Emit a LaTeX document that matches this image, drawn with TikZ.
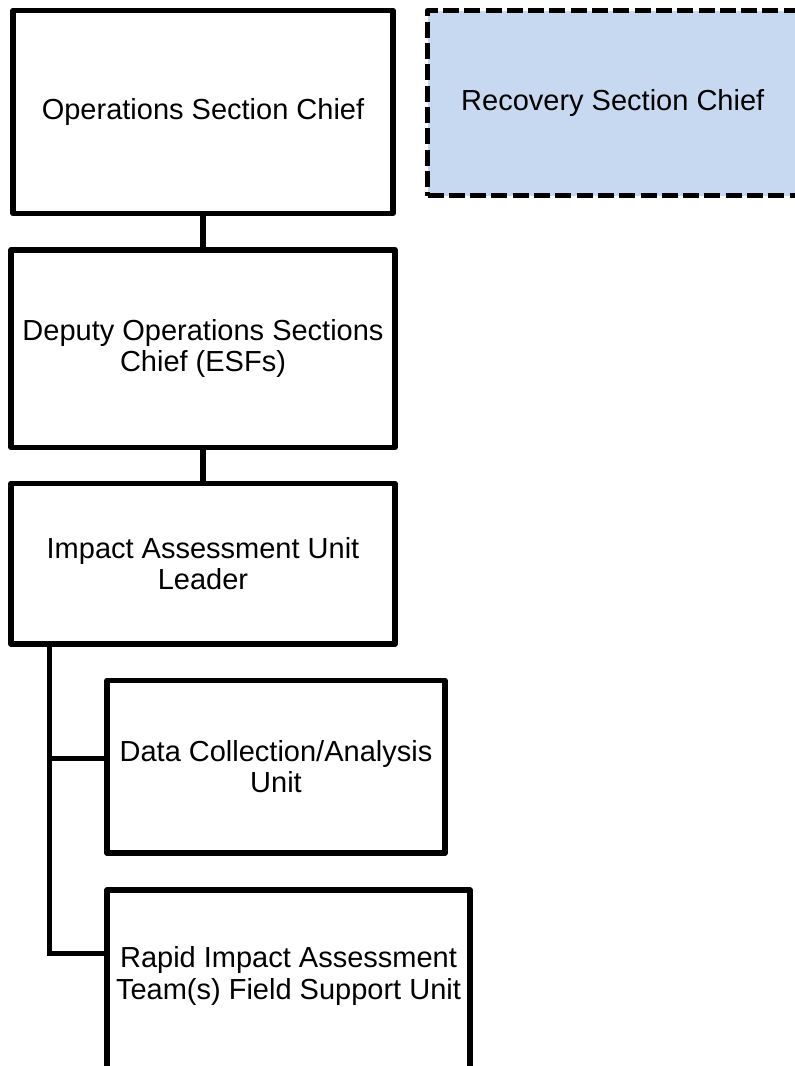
\documentclass[tikz,border=0pt]{standalone}
\usepackage{fontspec}
\setmainfont{Liberation Sans}
\definecolor{recfill}{RGB}{198,217,240}
\tikzset{
  box/.style={draw=black, line width=5.5pt, rectangle, line join=round, align=center,
    inner sep=0pt, font=\fontsize{29}{31.5}\selectfont},
  lbl/.style={align=center, inner sep=0pt, font=\fontsize{29}{31.5}\selectfont},
  conn/.style={draw=black, line width=5.5pt},
  dashedbox/.style={box, line width=5pt, fill=recfill, dash pattern=on 16pt off 5.3pt}
}
\begin{document}
\begin{tikzpicture}[x=1pt, y=-1pt]
\useasboundingbox (0,0) rectangle (795,1066);
\clip (0,0) rectangle (795,1066);
% boxes
\node[box, minimum width=380pt, minimum height=203pt] (ops) at (203,112) {Operations Section Chief};
\node[dashedbox, minimum width=370.5pt, minimum height=185pt] (rec) at (612.75,103) {Recovery Section Chief};
\node[box, minimum width=384pt, minimum height=197.5pt] (dep) at (203,348.5) {Deputy Operations Sections\\Chief (ESFs)};
\node[box, minimum width=384pt, minimum height=160.5pt] (imp) at (203,563.75) {Impact Assessment Unit\\Leader};
\node[box, minimum width=338pt, minimum height=172.5pt] (data) at (276,766.75) {Data Collection/Analysis\\Unit};
\node[box, minimum width=363pt, minimum height=200pt] (rapid) at (288.5,990) {};
\node[lbl] (rapidtxt) at (288.5,976) {Rapid Impact Assessment\\Team(s) Field Support Unit};
% connectors
\coordinate (bus) at (49.7,0);
\draw[conn] (ops.south) -- (dep.north);
\draw[conn] (dep.south) -- (imp.north);
\draw[conn] (imp.south -| bus) |- ([yshift=8.25pt]data.west);
\draw[conn] (imp.south -| bus) |- ([yshift=-66pt]rapid.north west);
\end{tikzpicture}
\end{document}
